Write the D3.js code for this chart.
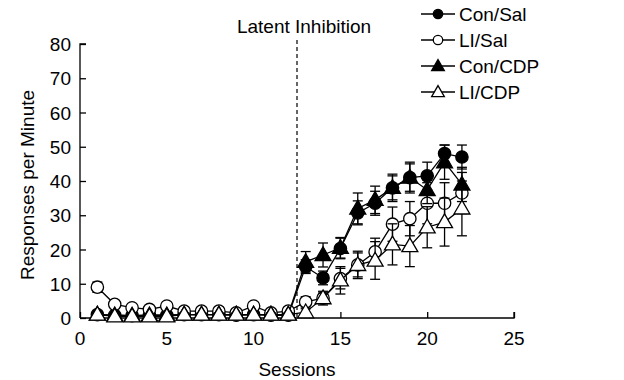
<!DOCTYPE html>
<html>
<head>
<meta charset="utf-8">
<script src="https://cdn.jsdelivr.net/npm/d3@7"></script>
<style>
body { margin: 0; background: #fff; }
text { font-family: "Liberation Sans", Arial, sans-serif; }
</style>
</head>
<body>
<div id="chart"></div>
<script>
// sessions 1..22
const sessions = d3.range(1, 23);
const seriesNames = ['Con/Sal', 'LI/Sal', 'Con/CDP', 'LI/CDP'];

const conSal = [1, 0.8, 0.7, 0.8, 0.8, 1, 1, 1, 0.8, 1, 0.8, 0.8, 15, 11.7, 20.3, 30.7, 33.5, 38, 41, 41.5, 48, 47];
const conSalErr = [0.5, 0.4, 0.4, 0.4, 0.4, 0.4, 0.4, 0.4, 0.4, 0.4, 0.4, 0.4, 2, 2, 3, 3.5, 3.5, 3.5, 4.5, 4, 2.5, 3.5];
const liSal = [9, 4, 3, 2.5, 3.5, 2, 2, 2, 1.5, 3.5, 1.5, 2, 4.7, 5.8, 11.5, 15.5, 19.3, 27.4, 29, 33.5, 33.5, 36.5];
const liSalErr = [1.5, 0.6, 0.5, 0.5, 0.6, 0.4, 0.4, 0.4, 0.4, 0.6, 0.4, 0.4, 1.5, 2, 3, 3.5, 4, 5, 5, 6, 6, 6];
const conCdp = [1, 0.8, 0.7, 0.8, 0.8, 1, 1, 1, 1, 1, 1, 1, 16.4, 18.4, 20.5, 32, 34.5, 38, 41, 37.4, 45.5, 39];
const conCdpErr = [0.5, 0.4, 0.4, 0.4, 0.4, 0.4, 0.4, 0.4, 0.4, 0.4, 0.4, 0.4, 3, 3.5, 3, 4.5, 4, 4, 4, 4, 5, 5];
const liCdp = [1, 0.5, 0.5, 0.5, 0.5, 1, 1, 1, 1, 1, 1, 1, 1.7, 5.8, 11, 15.5, 16.8, 21.5, 21, 26.5, 28, 32];
const liCdpErr = [0.4, 0.3, 0.3, 0.3, 0.3, 0.4, 0.4, 0.4, 0.4, 0.4, 0.4, 0.4, 1, 1.5, 4, 4, 5.5, 6, 6, 6, 7, 8];

const xTicks = [0, 5, 10, 15, 20, 25];
const yTicks = [0, 10, 20, 30, 40, 50, 60, 70, 80];
const phaseBoundary = 12.5;

const config = { width: 624, height: 380, left: 80, right: 514, top: 44, bottom: 318, font: 19 };

const svg = d3.select('#chart').append('svg')
    .attr('width', config.width)
    .attr('height', config.height);

const x = d3.scaleLinear().domain([0, 25]).range([config.left, config.right]);
const y = d3.scaleLinear().domain([0, 80]).range([config.bottom, config.top]);

// axes, ticks pointing inward
const yAxis = svg.append('g')
    .attr('transform', `translate(${config.left},0)`)
    .call(d3.axisRight(y).tickValues(yTicks).tickSize(6).tickFormat(''));
yAxis.select('.domain').attr('d', `M6,${y(80)}H0V${y(0)}`);
yAxis.selectAll('line, path').attr('stroke', '#000').attr('stroke-width', 1.3);

const xAxis = svg.append('g')
    .attr('transform', `translate(0,${config.bottom})`)
    .call(d3.axisTop(x).tickValues(xTicks).tickSize(6).tickFormat(''));
xAxis.select('.domain').attr('d', `M${x(0)},0H${x(25)}V-6`);
xAxis.selectAll('line, path').attr('stroke', '#000').attr('stroke-width', 1.3);

svg.selectAll('.ylab').data(yTicks).join('text')
    .attr('x', config.left - 9).attr('y', d => y(d) + 7)
    .attr('text-anchor', 'end').attr('font-size', config.font).text(d => d);

svg.selectAll('.xlab').data(xTicks).join('text')
    .attr('x', d => x(d)).attr('y', config.bottom + 27)
    .attr('text-anchor', 'middle').attr('font-size', config.font).text(d => d);

svg.append('text')
    .attr('transform', `translate(34,${(config.top + config.bottom) / 2 + 4}) rotate(-90)`)
    .attr('text-anchor', 'middle').attr('font-size', config.font).text('Responses per Minute');

svg.append('text')
    .attr('x', 297).attr('y', 376)
    .attr('text-anchor', 'middle').attr('font-size', config.font).text('Sessions');

// phase line
svg.append('line')
    .attr('x1', x(phaseBoundary)).attr('x2', x(phaseBoundary))
    .attr('y1', 40).attr('y2', config.bottom)
    .attr('stroke', '#000').attr('stroke-width', 1.2).attr('stroke-dasharray', '4,3');
svg.append('text')
    .attr('x', x(phaseBoundary) + 7).attr('y', 33)
    .attr('text-anchor', 'middle').attr('font-size', config.font).text('Latent Inhibition');

const series = [
    { name: seriesNames[0], vals: conSal, err: conSalErr, shape: 'circle', fill: '#000' },
    { name: seriesNames[1], vals: liSal, err: liSalErr, shape: 'circle', fill: '#fff' },
    { name: seriesNames[2], vals: conCdp, err: conCdpErr, shape: 'triangle', fill: '#000' },
    { name: seriesNames[3], vals: liCdp, err: liCdpErr, shape: 'triangle', fill: '#fff' }
];

const circleSym = d3.symbol().type(d3.symbolCircle).size(120);
const triSym = d3.symbol().type(d3.symbolTriangle).size(110);
const line = d3.line().x((d, i) => x(sessions[i])).y(d => y(d));

series.forEach(s => {
    const g = svg.append('g');
    // error bars
    const eb = g.selectAll('.eb').data(s.vals).join('g');
    eb.append('line')
        .attr('x1', (d, i) => x(sessions[i])).attr('x2', (d, i) => x(sessions[i]))
        .attr('y1', (d, i) => y(d - s.err[i])).attr('y2', (d, i) => y(d + s.err[i]))
        .attr('stroke', '#000').attr('stroke-width', 1.3);
    [-1, 1].forEach(sign => {
        eb.append('line')
            .attr('x1', (d, i) => x(sessions[i]) - 5).attr('x2', (d, i) => x(sessions[i]) + 5)
            .attr('y1', (d, i) => y(d + sign * s.err[i])).attr('y2', (d, i) => y(d + sign * s.err[i]))
            .attr('stroke', '#000').attr('stroke-width', 1.3);
    });
    g.append('path').datum(s.vals)
        .attr('d', line).attr('fill', 'none').attr('stroke', '#000').attr('stroke-width', 1.3);
    g.selectAll('.pt').data(s.vals).join('path')
        .attr('transform', (d, i) => `translate(${x(sessions[i])},${y(d) + (s.shape === 'triangle' ? 1 : 0)})`)
        .attr('d', s.shape === 'circle' ? circleSym() : triSym())
        .attr('fill', s.fill).attr('stroke', '#000').attr('stroke-width', 1.3);
});

// legend
const legend = svg.selectAll('.leg').data(series).join('g')
    .attr('transform', (d, i) => `translate(421,${14 + i * 26})`);
legend.append('line').attr('x1', 0).attr('x2', 34).attr('y1', 0).attr('y2', 0)
    .attr('stroke', '#000').attr('stroke-width', 1.3);
legend.append('path')
    .attr('transform', d => `translate(17,${d.shape === 'triangle' ? 1 : 0})`)
    .attr('d', d => d.shape === 'circle' ? d3.symbol().type(d3.symbolCircle).size(70)() : d3.symbol().type(d3.symbolTriangle).size(70)())
    .attr('fill', d => d.fill).attr('stroke', '#000').attr('stroke-width', 1.3);
legend.append('text').attr('x', 38).attr('y', 7).attr('font-size', config.font).text(d => d.name);
</script>
</body>
</html>
